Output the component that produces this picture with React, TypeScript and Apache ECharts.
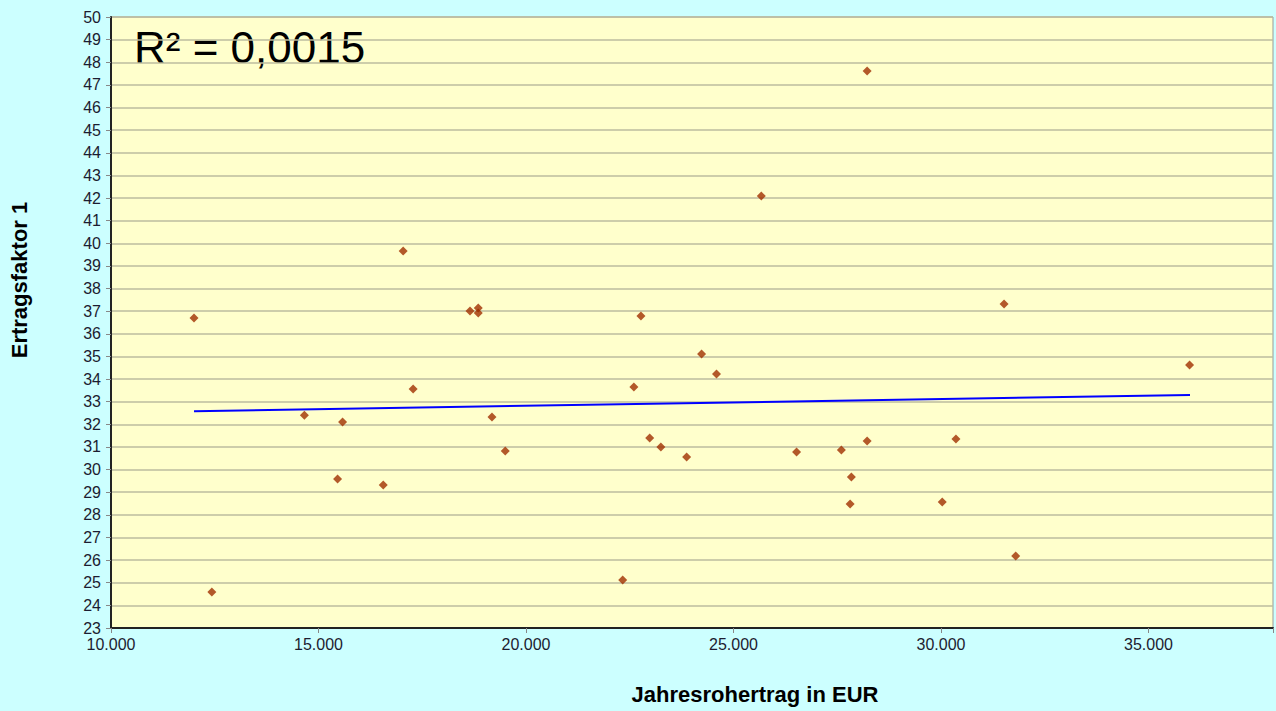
import React, { useEffect, useRef } from "react";
import * as echarts from "echarts";

const xValues = [
  12000, 12430, 14660, 15580, 15460, 16560, 17040, 17280, 18650, 18850, 18850,
  19180, 19500, 22330, 22600, 22770, 22980, 23250, 23870, 24230, 24590, 25670,
  26520, 27600, 27840, 27810, 28220, 28220, 30030, 30360, 31520, 31800, 35990,
];
const yValues = [
  36.7, 24.59, 32.4, 32.1, 29.58, 29.32, 39.66, 33.56, 37.01, 37.14, 36.92,
  32.32, 30.82, 25.12, 33.65, 36.79, 31.4, 31.0, 30.56, 35.11, 34.22, 42.09,
  30.78, 30.87, 29.67, 28.48, 47.61, 31.26, 28.57, 31.35, 37.32, 26.18, 34.62,
];
const trendX = [12000, 36000];
const trendY = [32.58, 33.3];
const xAxisName = "Jahresrohertrag in EUR";
const yAxisName = "Ertragsfaktor 1";
const r2Label = "R² = 0,0015";

const fmtThousands = (v: number) =>
  String(Math.round(v)).replace(/\B(?=(\d{3})+(?!\d))/g, ".");

export default function App() {
  const ref = useRef<HTMLDivElement>(null);
  useEffect(() => {
    document.body.style.margin = "0";
    const chart = echarts.init(ref.current!, null, { renderer: "svg" });
    const points = xValues.map((x, i) => [x, yValues[i]]);
    const trend = trendX.map((x, i) => [x, trendY[i]]);
    chart.setOption({
      animation: false,
      backgroundColor: "#CCFFFF",
      grid: {
        left: 111,
        top: 17,
        right: 1,
        bottom: 83,
        show: true,
        backgroundColor: "#FFFFCC",
        borderColor: "#999999",
        borderWidth: 1,
      },
      xAxis: {
        type: "value",
        min: 10000,
        max: 38000,
        interval: 5000,
        axisLine: { show: true, onZero: false, lineStyle: { color: "#222", width: 2 } },
        axisTick: { show: true, length: 5, lineStyle: { color: "#888" } },
        splitLine: { show: false },
        axisLabel: {
          color: "#1c1c30",
          fontFamily: "Liberation Sans",
          fontSize: 16,
          margin: 8,
          formatter: (v: number) => (v > 36000 ? "" : fmtThousands(v)),
        },
      },
      yAxis: {
        type: "value",
        min: 23,
        max: 50,
        interval: 1,
        axisLine: { show: true, onZero: false, lineStyle: { color: "#222", width: 2 } },
        axisTick: { show: true, length: 5, lineStyle: { color: "#888" } },
        splitLine: { show: true, lineStyle: { color: "#BDBD9F", width: 1.5 } },
        axisLabel: {
          color: "#1c1c30",
          fontFamily: "Liberation Sans",
          fontSize: 16,
          margin: 10,
        },
      },
      graphic: [
        {
          type: "text",
          left: 134,
          top: 25,
          style: {
            text: r2Label,
            fontFamily: "Liberation Sans",
            fontSize: 44,
            fill: "#000",
          },
        },
        {
          type: "text",
          x: 755,
          y: 694,
          style: {
            text: xAxisName,
            fontFamily: "Liberation Sans",
            fontSize: 22,
            fontWeight: "bold",
            fill: "#000",
            align: "center",
            verticalAlign: "middle",
          },
        },
        {
          type: "text",
          x: 19,
          y: 280,
          rotation: Math.PI / 2,
          style: {
            text: yAxisName,
            fontFamily: "Liberation Sans",
            fontSize: 22,
            fontWeight: "bold",
            fill: "#000",
            align: "center",
            verticalAlign: "middle",
          },
        },
      ],
      series: [
        {
          type: "line",
          data: trend,
          symbol: "none",
          lineStyle: { color: "#0000FF", width: 2 },
          z: 2,
        },
        {
          type: "scatter",
          data: points,
          symbol: "diamond",
          symbolSize: 9,
          itemStyle: { color: "#A03000" },
          z: 3,
        },
      ],
    });
    return () => chart.dispose();
  }, []);
  return <div ref={ref} style={{ width: 1276, height: 711 }} />;
}
